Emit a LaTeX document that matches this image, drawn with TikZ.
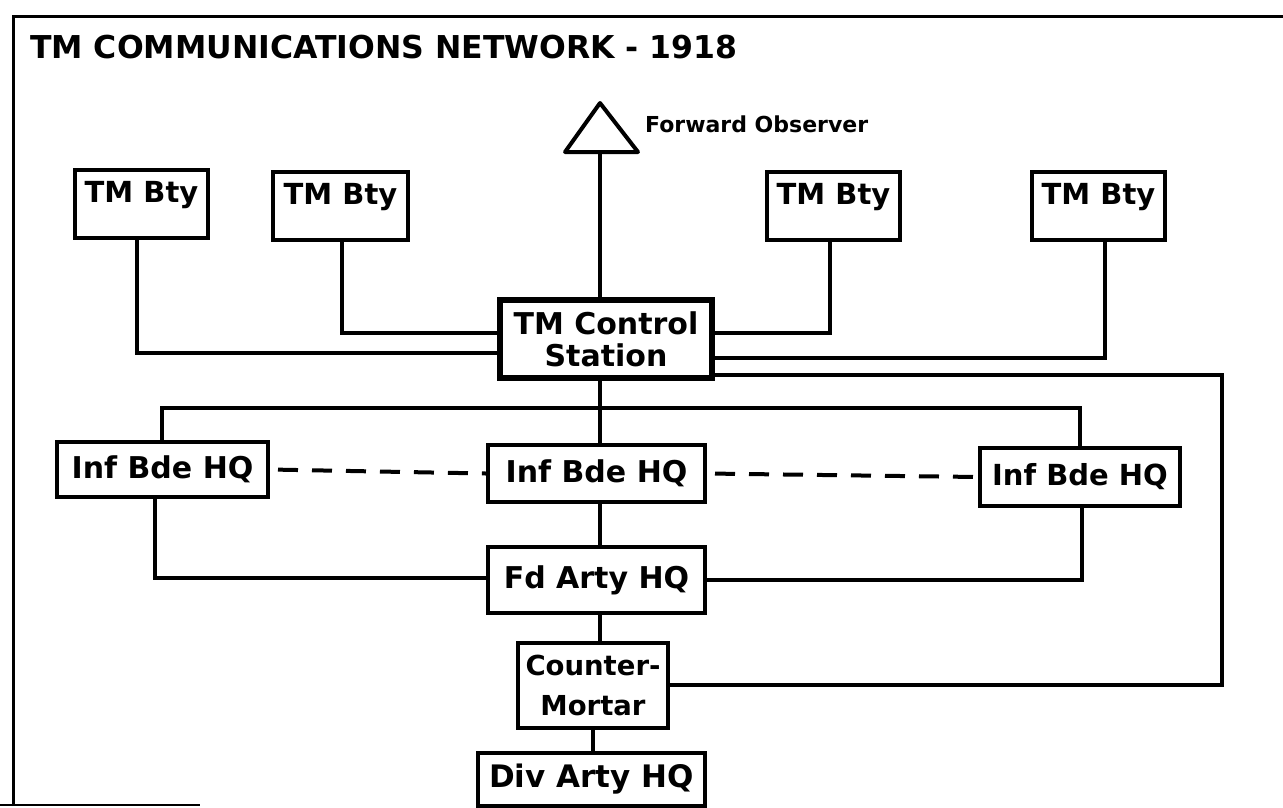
\documentclass[tikz,border=0pt]{standalone}
\usepackage{fontspec}
\setmainfont{DejaVu Sans}
\usetikzlibrary{calc}
\newcommand{\fsz}[1]{\fontsize{#1}{#1}\selectfont}
\begin{document}
\begin{tikzpicture}[x=1pt,y=-1pt,
  wire/.style={line width=4pt},
  dashline/.style={line width=4pt, dash pattern=on 20pt off 14pt, dash phase=26pt},
  box/.style={draw, line width=4pt, inner sep=0pt, font=\bfseries\fsz{30}},
  btybox/.style={box, minimum width=133pt, text height=32pt, text depth=36pt, font=\bfseries\fsz{29}},
  bigbox/.style={box, line width=6.5pt, align=center, font=\bfseries\fsz{30}}
]
\useasboundingbox (0,0) rectangle (1283,807);
% frame
\draw[line width=3pt] (13,806) -- (13,16) -- (1283,16);
\draw[line width=2.5pt] (0,805) -- (200,805);

\node[anchor=base west, inner sep=0pt, font=\bfseries\fsz{31.5}] (title) at (30,58) {TM COMMUNICATIONS NETWORK - 1918};

% forward observer
\coordinate (fo) at (600,152);
\draw[wire, line join=round] (565,152) -- (600,103) -- (638,152) -- cycle;
\node[anchor=base west, inner sep=0pt, font=\bfseries\fsz{22}] (folabel) at (645,132) {Forward Observer};

% TM batteries
\node[btybox] (bty1) at (141.5,204) {TM Bty};
\node[btybox, minimum width=135pt] (bty2) at (340.5,206) {TM Bty};
\node[btybox] (bty3) at (833.5,206) {TM Bty};
\node[btybox] (bty4) at (1098.5,206) {TM Bty};

% control station
\node[bigbox, minimum width=212pt, minimum height=78pt] (tmc) at (606,339)
  {TM Control\\[2pt]Station};

% Inf Bde HQs
\node[box, minimum width=211pt, minimum height=55pt] (inf1) at (162.5,469.5) {Inf Bde HQ};
\node[box, minimum width=217pt, minimum height=57pt] (inf2) at (596.5,473.5) {Inf Bde HQ};
\node[box, minimum width=200pt, minimum height=58pt, font=\bfseries\fsz{29}] (inf3) at (1080,477) {Inf Bde HQ};

% lower chain
\node[box, minimum width=217pt, minimum height=66pt] (fd) at (596.5,580) {Fd Arty HQ};
\node[box, minimum width=150pt, minimum height=85pt, align=center, font=\bfseries\fsz{27.5}] (cm) at (593,685.5)
  {Counter-\\[13pt]Mortar};
\node[box, minimum width=227pt, minimum height=53pt, font=\bfseries\fsz{31}] (div) at (591.5,779.5) {Div Arty HQ};

% junction coordinates
\coordinate (j1) at (137,353);
\coordinate (j2) at (342,333);
\coordinate (j3) at (830,333);
\coordinate (j4) at (1105,358);
\coordinate (j5) at (1222,375);
\coordinate (j6) at (1222,685);
\coordinate (bl) at (162,408);
\coordinate (br) at (1080,408);
\coordinate (lb) at (155,578);
\coordinate (rb) at (1082,580);

% connectors
\draw[wire] (fo) -- (fo |- tmc.north);
\draw[wire] (bty1.south -| j1) -- (j1) -- (j1 -| tmc.west);
\draw[wire] (bty2.south -| j2) -- (j2) -- (j2 -| tmc.west);
\draw[wire] (bty3.south -| j3) -- (j3) -- (j3 -| tmc.east);
\draw[wire] (bty4.south -| j4) -- (j4) -- (j4 -| tmc.east);
\draw[wire] (j5 -| tmc.east) -- (j5) -- (j6) -- (j6 -| cm.east);
\draw[wire] (fo |- tmc.south) -- (fo |- inf2.north);
\draw[wire] (bl |- inf1.north) -- (bl) -- (br) -- (br |- inf3.north);
\draw[dashline] (inf1.east) -- (inf2.west);
\draw[dashline] (inf2.east) -- (inf3.west);
\draw[wire] (lb |- inf1.south) -- (lb) -- (lb -| fd.west);
\draw[wire] (rb |- inf3.south) -- (rb) -- (rb -| fd.east);
\draw[wire] (fo |- inf2.south) -- (fo |- fd.north);
\draw[wire] (fo |- fd.south) -- (fo |- cm.north);
\draw[wire] (cm.south) -- (cm.south |- div.north);
\end{tikzpicture}
\end{document}
